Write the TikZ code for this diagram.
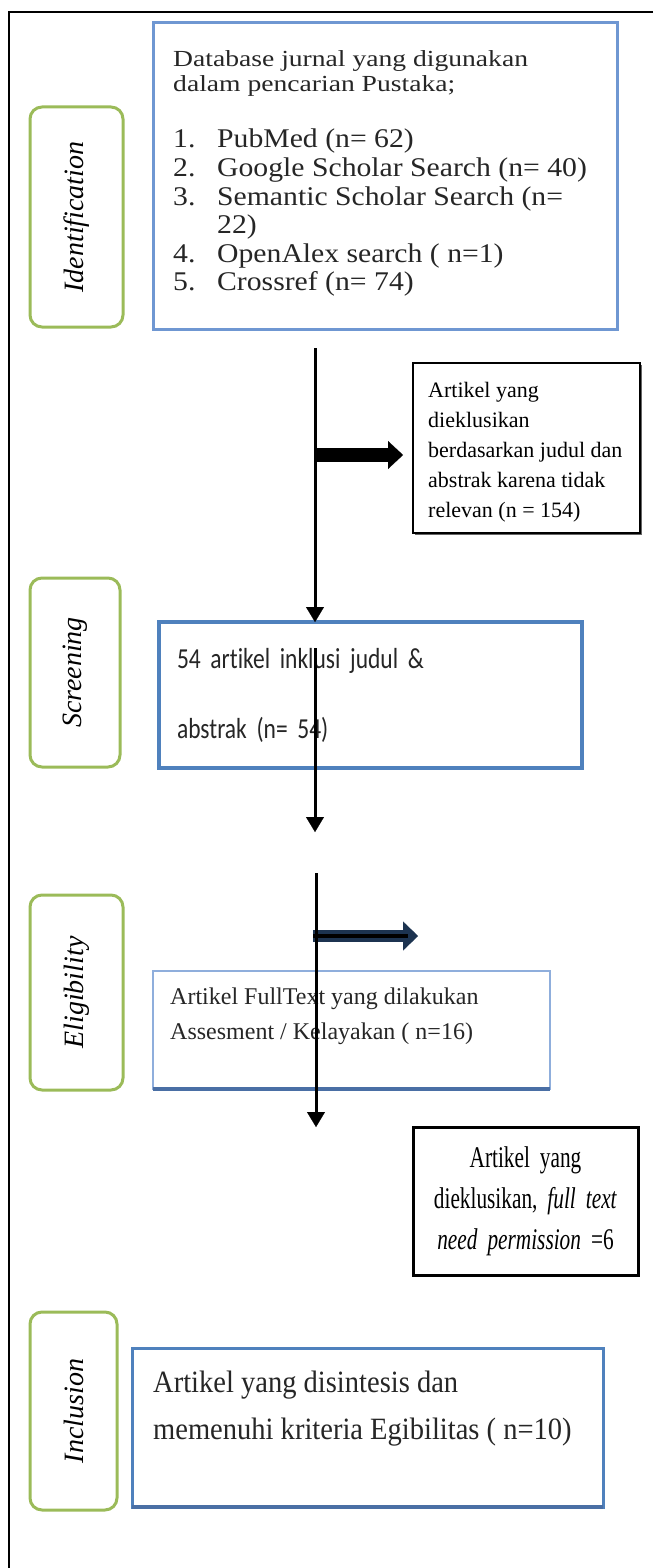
\documentclass[tikz,border=0pt]{standalone}
\usepackage{fontspec}
\setmainfont{Liberation Serif}
\newfontfamily\wideserif[FakeStretch=1.2]{Liberation Serif}
\newfontfamily\listserif[FakeStretch=1.1]{Liberation Serif}
\newfontfamily\narrowserif[FakeStretch=0.71]{Liberation Serif}
\newfontfamily\midserif[FakeStretch=0.92]{Liberation Serif}
\newfontfamily\calib[FakeStretch=0.81,Ligatures={NoCommon}]{Carlito}
\usetikzlibrary{arrows.meta,calc,shadows}
\definecolor{grn}{HTML}{9BBB59}
\definecolor{bluA}{HTML}{6F97D2}
\definecolor{bluB}{HTML}{4F81BD}
\definecolor{bluC}{HTML}{8FAEDC}
\definecolor{bluD}{HTML}{4A6FA5}
\definecolor{navy}{HTML}{1C3350}
\definecolor{txtgray}{HTML}{262626}
\begin{document}
\begin{tikzpicture}[x=1pt,y=-1pt,
  stage/.style={draw=grn, line width=3pt, rounded corners=12pt, rotate=90, inner sep=0pt,
    font={\itshape\fontsize{28}{30}\selectfont}},
  bluebox/.style={draw=#1, line width=3pt, fill=white, inner sep=0pt, outer sep=0pt},
  exbox/.style={draw=black, line width=2pt, fill=white, inner sep=0pt, outer sep=0pt,
    drop shadow={shadow xshift=2pt, shadow yshift=-2pt, fill=black!60, opacity=1}},
  boxtext/.style={anchor=north west, inner sep=0pt, align=left, text=txtgray},
  flow/.style={line width=3pt, -{Triangle[width=18pt,length=15pt,line width=0.1pt]}},
  block/.style={line width=14pt, -{Triangle[width=28pt,length=15pt,line width=0.1pt]}},
]
\useasboundingbox (0,0) rectangle (653,1568);
% outer frame
\draw[line width=1.5pt] (653,12) -- (9,12) -- (9,1568);

% stage labels
\node[stage, minimum width=220pt, minimum height=93pt] (g1) at (76.5,217) {Identification};
\node[stage, minimum width=189pt, minimum height=90pt] (g2) at (75,672.5) {Screening};
\node[stage, minimum width=195pt, minimum height=93pt] (g3) at (76.5,992.5) {Eligibility};
\node[stage, minimum width=198pt, minimum height=87pt] (g4) at (73.5,1411) {Inclusion};

% box 1
\node[bluebox=bluA, minimum width=464pt, minimum height=306pt] (b1) at (385,176) {};
\node[boxtext, font={\wideserif\fontsize{23}{25}\selectfont}] (t1h) at (173,50)
  {Database jurnal yang digunakan\\dalam pencarian Pustaka;};
\node[boxtext, font={\listserif\fontsize{27}{28.6}\selectfont}] (t1l) at (173,129)
  {\makebox[44pt][l]{1.}PubMed (n= 62)\\
   \makebox[44pt][l]{2.}Google Scholar Search (n= 40)\\
   \makebox[44pt][l]{3.}Semantic Scholar Search (n=\\
   \hspace*{44pt}22)\\
   \makebox[44pt][l]{4.}OpenAlex search ( n=1)\\
   \makebox[44pt][l]{5.}Crossref (n= 74)};

% excluded box 1
\node[exbox, minimum width=227pt, minimum height=170pt] (x1) at (526.5,448) {};
\node[boxtext, text=black, font={\fontsize{22}{30}\selectfont}] (t1x) at (428,382)
  {Artikel yang\\dieklusikan\\berdasarkan judul dan\\abstrak karena tidak\\relevan (n = 154)};

% box 2
\node[bluebox=bluB, line width=4pt, text width=387pt, inner xsep=18pt, minimum height=146pt,
  align=left, text=txtgray, font={\calib\fontsize{29}{70}\selectfont}] (b2) at (370.5,695)
  {54 artikel inklusi judul \&\\abstrak (n= 54)};

% box 3
\node[bluebox=bluC, line width=2.5pt, minimum width=397pt, minimum height=118pt] (b3) at (351.5,1030) {};
\draw[bluD, line width=3.5pt] (b3.south west) -- (b3.south east);
\node[boxtext, font={\fontsize{24}{35}\selectfont}] (t3) at (170,988)
  {Artikel FullText yang dilakukan\\Assesment / Kelayakan ( n=16)};

% excluded box 2
\node[exbox, line width=3pt, text width=200pt, inner xsep=12.5pt, minimum height=148pt, align=center,
  font={\narrowserif\fontsize{30}{41}\selectfont}] (x2) at (525.5,1201)
  {Artikel yang\\dieklusikan, \textit{full text}\\\textit{need permission}\hspace{10pt}=6};

% box 5
\node[bluebox=bluB, minimum width=471pt, minimum height=159pt] (b5) at (367.5,1427.5) {};
\draw[bluD, line width=4.5pt] (b5.south west) -- (b5.south east);
\node[boxtext, font={\midserif\fontsize{31}{47}\selectfont}] (t5) at (153,1371)
  {Artikel yang disintesis dan\\memenuhi kriteria Egibilitas ( n=10)};

% connectors
\coordinate (s1) at (315,348);
\coordinate (j1) at (315,455);
\draw[flow] (s1) -- (s1 |- b2.north);
\draw[block] (j1) -- ($(j1 -| x1.west)+(-10,0)$);

\coordinate (s2) at (315,648);
\coordinate (e2) at (315,832);
\draw[flow] (s2) -- (e2);

\coordinate (j2) at (313,936);
\coordinate (k2) at (418,936);
\draw[block, draw=navy, fill=navy, line width=12pt, -{Triangle[width=29pt,length=15pt,line width=0.1pt]}] (j2) -- (k2);
\draw[line width=3.5pt] (j2) -- ($(k2)+(-10,0)$);

\coordinate (s3) at (316,873);
\coordinate (e3) at (316,1127);
\draw[flow] (s3) -- (e3);
\end{tikzpicture}
\end{document}
